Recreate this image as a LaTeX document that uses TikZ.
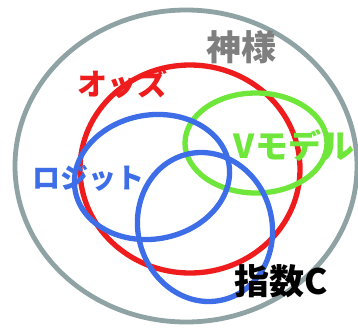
\documentclass[tikz,border=0pt]{standalone}
\usepackage{fontspec}
\newfontfamily\jp{Noto Sans CJK JP}
\definecolor{ringgray}{HTML}{8FA2A4}
\definecolor{vred}{HTML}{EE1C1C}
\definecolor{vgreen}{HTML}{6EE63A}
\definecolor{vblue}{HTML}{3D6EE8}
\definecolor{tgray}{HTML}{7F7F7F}
\tikzset{
  lbl/.style={font=\jp\bfseries\fontsize{#1}{#1}\selectfont, inner sep=0pt},
}
\begin{document}
\begin{tikzpicture}[x=1pt,y=-1pt]
\useasboundingbox[fill=white] (0,0) rectangle (358,327);
\draw[ringgray, line width=4.8pt] (186,166) ellipse (171 and 156);
\draw[vred, line width=5.3pt] (190,169) ellipse (110 and 104);
\draw[vgreen, line width=5.3pt] (256,143) ellipse (71 and 50);
\draw[vblue, line width=5.3pt, rotate around={10:(152,177)}] (152,177) ellipse (78 and 62);
\draw[vblue, line width=5.3pt, rotate around={15:(205,227)}] (205,227) ellipse (67 and 75);
\node[lbl=35, text=tgray] (kami) at (241,47) {神様};
\node[lbl=30, text=vred] (odds) at (122,84) {オッズ};
\node[lbl=33, text=vgreen] (vmodel) at (294,145) {Vモデル};
\node[lbl=28, text=vblue] (logit) at (88,178) {ロジット};
\node[lbl=35, text=black] (shisu) at (281,281) {指数C};
\end{tikzpicture}
\end{document}
